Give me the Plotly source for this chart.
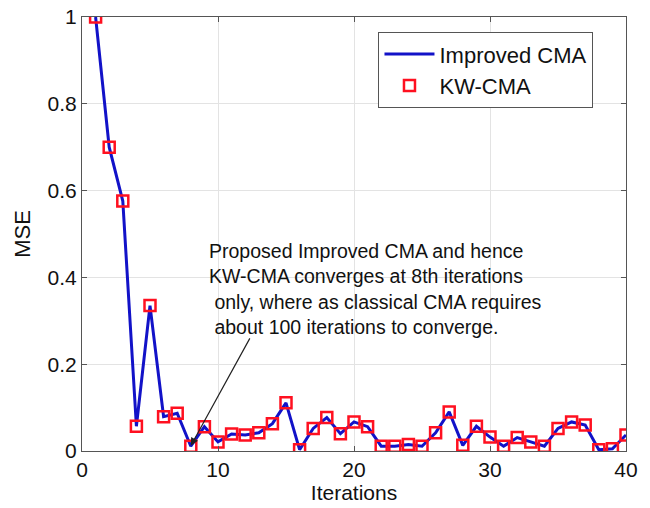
import plotly.graph_objects as go

iterations = list(range(1, 41))
mse_improved = [1.0, 0.70, 0.576, 0.057, 0.335, 0.079, 0.087, 0.011, 0.056, 0.021,
                0.039, 0.037, 0.042, 0.063, 0.111, 0.003, 0.052, 0.077, 0.040, 0.067,
                0.056, 0.011, 0.011, 0.015, 0.011, 0.042, 0.090, 0.013, 0.057, 0.032,
                0.011, 0.031, 0.021, 0.011, 0.052, 0.067, 0.060, 0.003, 0.005, 0.037]
mse_kw = list(mse_improved)

x_ticks = [0, 10, 20, 30, 40]
y_ticks = [0, 0.2, 0.4, 0.6, 0.8, 1]
y_tick_labels = ["0", "0.2", "0.4", "0.6", "0.8", "1"]

FONT = "Liberation Sans, Arial, sans-serif"

fig = go.Figure()
fig.add_trace(go.Scatter(x=iterations, y=mse_improved, mode="lines", name="Improved CMA",
                         line=dict(color="#1212c8", width=3)))
fig.add_trace(go.Scatter(x=iterations, y=mse_kw, mode="markers", name="KW-CMA",
                         marker=dict(symbol="square-open", size=11, color="#ff1020",
                                     line=dict(width=2.5, color="#ff1020"))))

# arrow
fig.add_annotation(x=8, y=0.012, ax=12.4, ay=0.263, axref="x", ayref="y",
                   xref="x", yref="y", text="", showarrow=True, arrowhead=2,
                   arrowsize=1.3, arrowwidth=1.2, arrowcolor="#222222")
fig.add_annotation(x=9.2, y=0.49, xref="x", yref="y", xanchor="left", yanchor="top",
                   align="left", showarrow=False,
                   text="Proposed Improved CMA and hence<br>KW-CMA converges at 8th iterations"
                        "<br>\u00a0only, where as classical CMA requires<br>\u00a0about 100 iterations to converge.",
                   font=dict(family=FONT, size=19.5, color="#111111"))

axis_common = dict(showline=True, linecolor="#555555", linewidth=1, mirror="ticks",
                   ticks="inside", ticklen=5, tickcolor="#555555", automargin=False,
                   showgrid=True, gridcolor="#e3e3e3", gridwidth=1, zeroline=False,
                   tickfont=dict(family=FONT, size=21, color="#111111"))

fig.update_xaxes(range=[0, 40], tickvals=x_ticks,
                 title=dict(text="Iterations", font=dict(family=FONT, size=21, color="#111111"), standoff=0),
                 **axis_common)
fig.update_yaxes(range=[0, 1], tickvals=y_ticks, ticktext=y_tick_labels,
                 title=dict(text="MSE", font=dict(family=FONT, size=22, color="#111111"), standoff=10),
                 **axis_common)

fig.update_layout(width=650, height=508, margin=dict(l=82, r=24, t=17, b=57),
                  paper_bgcolor="white", plot_bgcolor="white",
                  font=dict(family=FONT, size=21, color="#111111"),
                  legend=dict(x=0.545, y=0.965, xanchor="left", yanchor="top",
                              bgcolor="white", bordercolor="#555555", borderwidth=1,
                              font=dict(family=FONT, size=22, color="#111111"),
                              itemwidth=50, tracegroupgap=0))

fig.write_html("out.html")
